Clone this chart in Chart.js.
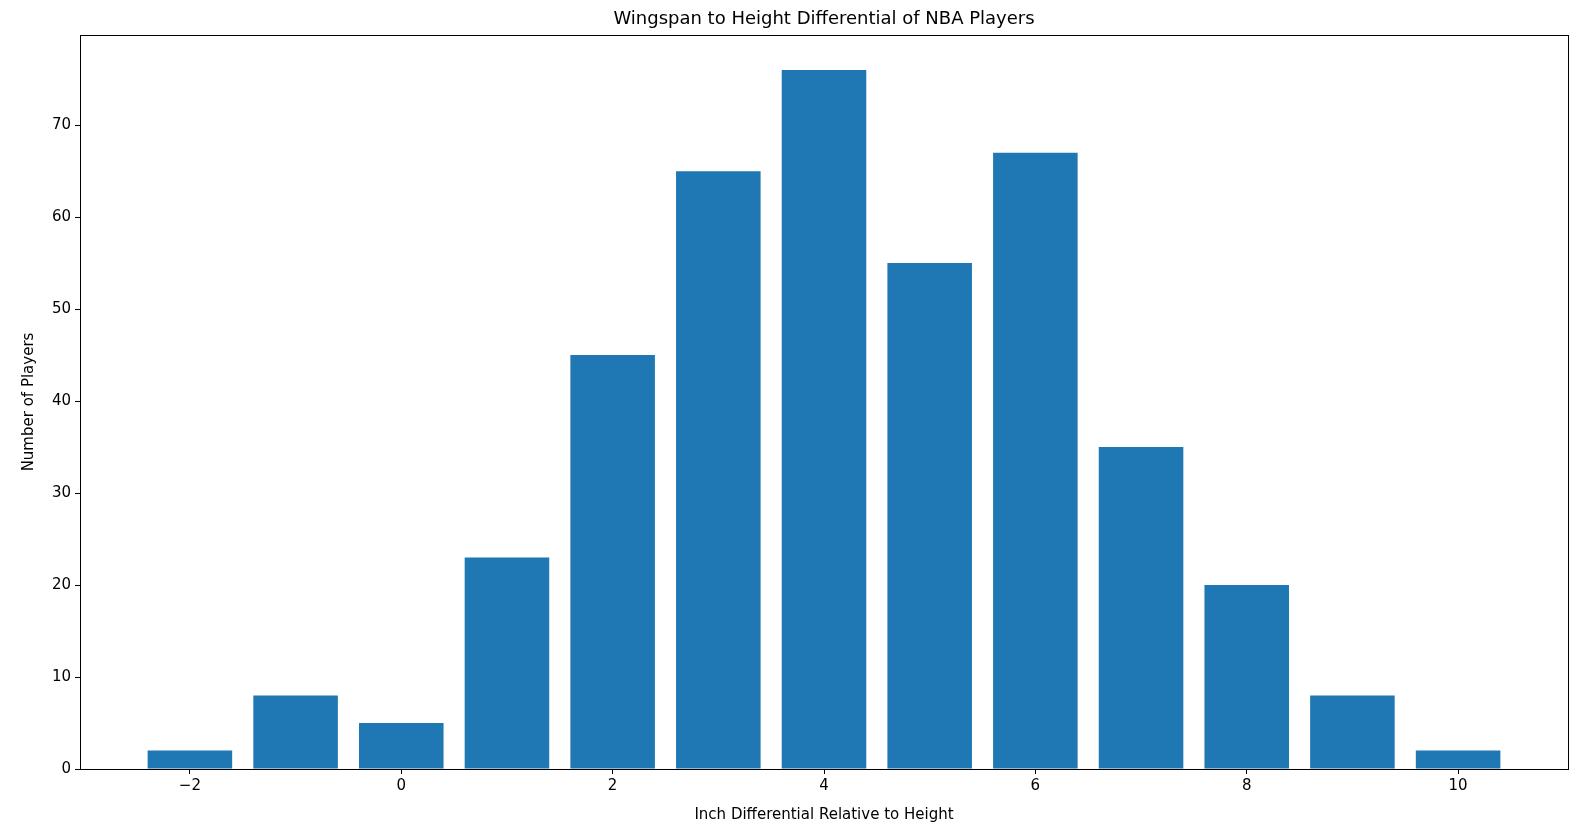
<!DOCTYPE html>
<html>
<head>
<meta charset="utf-8">
<script src="https://cdn.jsdelivr.net/npm/chart.js@4.4.0/dist/chart.umd.min.js"></script>
<style>
  html, body { margin: 0; padding: 0; background: #fff; }
  #wrap { width: 1579px; height: 832px; }
</style>
</head>
<body>
<div id="wrap"><canvas id="chart" width="1579" height="832"></canvas></div>
<script>
// Data
const differentials = [-2, -1, 0, 1, 2, 3, 4, 5, 6, 7, 8, 9, 10];
const playerCounts = [2, 8, 5, 23, 45, 65, 76, 55, 67, 35, 20, 8, 2];
const xTicks = [-2, 0, 2, 4, 6, 8, 10];
const yTicks = [0, 10, 20, 30, 40, 50, 60, 70];

const FONT = 'DejaVu Sans';

// frame + title drawn by hand, like matplotlib
const framePlugin = {
    id: 'frame',
    afterDraw(chart) {
        const { ctx, chartArea: a } = chart;
        ctx.save();
        ctx.strokeStyle = '#000';
        ctx.lineWidth = 1;
        ctx.strokeRect(a.left + 0.5, a.top + 0.5, a.right - a.left, a.bottom - a.top);
        ctx.fillStyle = '#000';
        ctx.font = '18px "' + FONT + '"';
        ctx.textAlign = 'center';
        ctx.textBaseline = 'bottom';
        ctx.fillText('Wingspan to Height Differential of NBA Players', (a.left + a.right) / 2, a.top - 7);
        ctx.restore();
    }
};

new Chart(document.getElementById('chart'), {
    type: 'bar',
    data: {
        datasets: [{
            data: differentials.map((x, i) => ({ x: x, y: playerCounts[i] })),
            backgroundColor: '#1f77b4',
            barPercentage: 0.8,
            categoryPercentage: 1.0
        }]
    },
    options: {
        responsive: false,
        animation: false,
        layout: { padding: { top: 35, right: 11, left: 0, bottom: 0 } },
        plugins: { legend: { display: false }, tooltip: { enabled: false } },
        scales: {
            x: {
                type: 'linear',
                offset: false,
                min: -3.04,
                max: 11.04,
                afterBuildTicks: s => { s.ticks = xTicks.map(v => ({ value: v })); },
                afterFit: s => { s.height = 63; },
                grid: { offset: false, drawOnChartArea: false, drawTicks: true, tickLength: 5, color: '#000' },
                border: { display: true, color: '#000' },
                ticks: {
                    color: '#000', font: { family: FONT, size: 15 }, padding: 3,
                    callback: v => String(v).replace('-', '\u2212')
                },
                title: { display: true, text: 'Inch Differential Relative to Height', color: '#000', font: { family: FONT, size: 15 }, padding: { top: 4, bottom: 8 } }
            },
            y: {
                min: 0,
                max: 79.8,
                afterBuildTicks: s => { s.ticks = yTicks.map(v => ({ value: v })); },
                afterFit: s => { s.width = 80; },
                grid: { drawOnChartArea: false, drawTicks: true, tickLength: 5, color: '#000' },
                border: { display: true, color: '#000' },
                ticks: { color: '#000', font: { family: FONT, size: 15 }, padding: 4 },
                title: { display: true, text: 'Number of Players', color: '#000', font: { family: FONT, size: 15 }, padding: { top: 20, bottom: 4 } }
            }
        }
    },
    plugins: [framePlugin]
});
</script>
</body>
</html>
